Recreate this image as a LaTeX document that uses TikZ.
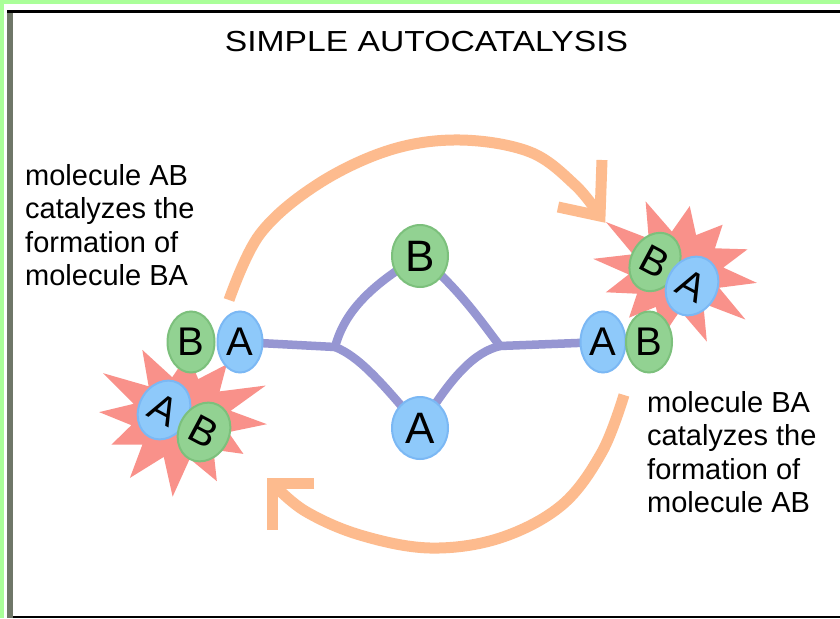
\documentclass[tikz,border=0pt]{standalone}
\usepackage{fontspec}
\setmainfont{Liberation Sans}
\usetikzlibrary{shapes.geometric,backgrounds}
\definecolor{frgreen}{HTML}{AAFF99}
\definecolor{frgray}{HTML}{6F7768}
\definecolor{molgreen}{HTML}{92D292}
\definecolor{molgreenedge}{HTML}{7CC07C}
\definecolor{molblue}{HTML}{8EC9FA}
\definecolor{molblueedge}{HTML}{7BB8F4}
\definecolor{bondc}{HTML}{9696D2}
\definecolor{arrowc}{HTML}{FDBB8E}
\definecolor{starc}{HTML}{F9918A}
\tikzset{
  mol/.style={ellipse, inner sep=0pt, line width=2pt, text=black},
  molA/.style={mol, fill=molblue, draw=molblueedge},
  molB/.style={mol, fill=molgreen, draw=molgreenedge},
  bigmol/.style={minimum width=56pt, minimum height=62pt, font=\fontsize{44}{44}\selectfont},
  pairmol/.style={minimum width=47pt, minimum height=61pt, font=\fontsize{40}{40}\selectfont},
  bondline/.style={draw=bondc, line width=8.5pt, line cap=round, line join=round},
  arrowline/.style={draw=arrowc, line width=11pt},
  arrowhead/.style={draw=arrowc, line width=11pt, line join=miter},
  label/.style={anchor=base west, inner sep=0pt, font=\fontsize{29}{33}\selectfont},
  starfill/.style={fill=starc}
}
\begin{document}
\begin{tikzpicture}[x=1pt,y=-1pt]
\useasboundingbox (0,0) rectangle (840,618);
% frame
\fill[frgreen] (0,0) rectangle (840,4);
\fill[frgreen] (0,0) rectangle (4,618);
\fill[frgray] (7,10) rectangle (13,618);
\fill[black] (7,10) rectangle (840,13);
\fill[black] (13,615.5) rectangle (840,618);
% title
\node[anchor=base, inner sep=0pt, font=\fontsize{29}{29}\selectfont] (title) at (426.5,52) {\scalebox{1.16}[1]{SIMPLE AUTOCATALYSIS}};
% curved arrows
\coordinate (u0) at (229,300);
\coordinate (utip) at (600,216);
\draw[arrowline] plot[smooth, tension=0.6] coordinates {(u0) (260,234) (318,184) (390,150) (460,140) (530,152) (575,185) (utip)};
\draw[arrowhead] (602,160) -- (utip) -- (558,207);
\coordinate (l0) at (624,395);
\coordinate (ltip) at (272,483);
\draw[arrowline] plot[smooth, tension=0.6] coordinates {(l0) (602,452) (562,505) (500,538) (430,548) (360,535) (305,511) (ltip)};
\draw[arrowhead] (314,483) -- (ltip) -- (272,530);
% stars
\fill[starfill] plot[samples at={0,...,23}, variable=\k]
  ({181+1.12*(45+(1-mod(\k,2))*(32+9*sin(137*\k)))*cos(15*\k+5)},
   {418+0.92*(45+(1-mod(\k,2))*(32+9*sin(137*\k)))*sin(15*\k+5)}) -- cycle;
\fill[starfill] plot[samples at={0,...,23}, variable=\k]
  ({676+1.08*(44+(1-mod(\k,2))*(32+9*sin(211*\k)))*cos(15*\k+10)},
   {271+0.9*(44+(1-mod(\k,2))*(32+9*sin(211*\k)))*sin(15*\k+10)}) -- cycle;
% molecules
\node[molB, bigmol] (cB) at (420,256) {B};
\node[molA, bigmol] (cA) at (420,428) {A};
\node[molB, pairmol] (lB) at (191,342) {B};
\node[molA, pairmol, minimum width=45pt] (lA) at (240,342) {A};
\node[molA, pairmol, minimum width=45pt] (rA) at (603,342) {A};
\node[molB, pairmol, minimum width=46pt] (rB) at (649,342) {B};
\node[molA, pairmol, minimum width=50pt, rotate=-28] (sA) at (164,410) {A};
\node[molB, pairmol, minimum width=50pt, rotate=-28] (sB) at (204,432) {B};
\node[molB, pairmol, minimum width=48pt, rotate=-28] (tB) at (655,262) {B};
\node[molA, pairmol, minimum width=50pt, rotate=-28] (tA) at (692,286) {A};
% bonds
\begin{scope}[on background layer]
\fill[white] (4,4) rectangle (840,618);
\coordinate (j1) at (335,347);
\coordinate (j2) at (500,346);
\draw[bondline] (lA.center) -- (j1);
\draw[bondline] (j1) .. controls (343,318) and (362,290) .. (cB.center);
\draw[bondline] (j1) .. controls (358,356) and (380,380) .. (cA.center);
\draw[bondline] (cB.center) .. controls (460,290) and (480,320) .. (j2);
\draw[bondline] (cA.center) .. controls (452,375) and (475,352) .. (j2);
\draw[bondline] (j2) -- (rA.center);
\end{scope}
% texts
\node[label] (t1) at (25,185) {molecule AB};
\node[label] (t2) at (25,218.5) {catalyzes the};
\node[label] (t3) at (25,252) {formation of};
\node[label] (t4) at (25,285.5) {molecule BA};
\node[label] (t5) at (647,412) {molecule BA};
\node[label] (t6) at (647,445.5) {catalyzes the};
\node[label] (t7) at (647,479) {formation of};
\node[label] (t8) at (647,512.5) {molecule AB};
\end{tikzpicture}
\end{document}
